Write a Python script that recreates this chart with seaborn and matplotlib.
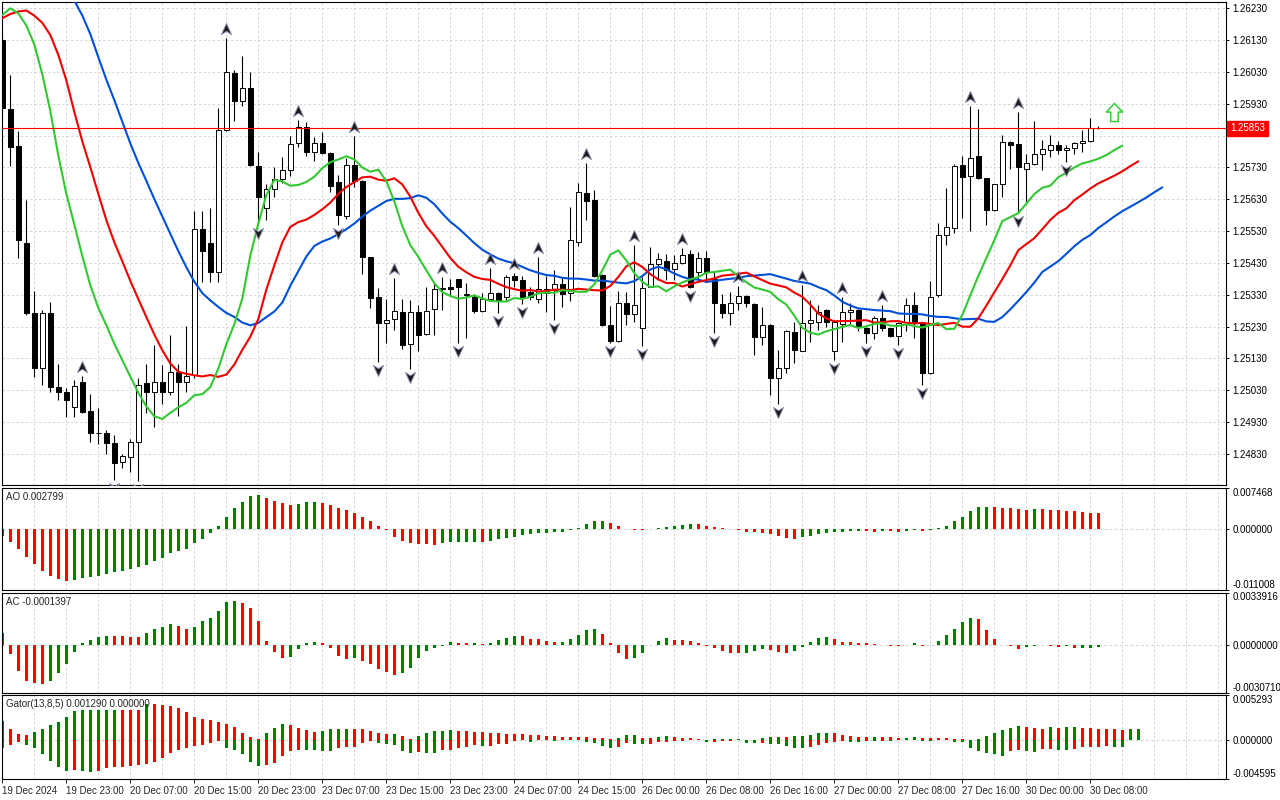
import numpy as np
import matplotlib
matplotlib.use("Agg")
import matplotlib.pyplot as plt
from matplotlib.path import Path
from matplotlib.transforms import offset_copy, blended_transform_factory
import seaborn as sns

# ---- H1 candles, 19 Dec 2024 15:00 ... 30 Dec 2024 ----
bar_open = [
    1.26131, 1.25914, 1.25798, 1.25492, 1.25272, 1.25099, 1.25272, 1.25040, 1.25025, 1.24977,
    1.25055, 1.24965, 1.24895, 1.24895, 1.24864, 1.24804, 1.24820, 1.24867, 1.25052, 1.25026,
    1.25055, 1.25026, 1.25087, 1.25055, 1.25078, 1.25536, 1.25492, 1.25403, 1.25847, 1.26026,
    1.25939, 1.25979, 1.25735, 1.25602, 1.25661, 1.25695, 1.25722, 1.25806, 1.25856, 1.25778,
    1.25806, 1.25775, 1.25684, 1.25579, 1.25737, 1.25688, 1.25448, 1.25322, 1.25242, 1.25253,
    1.25276, 1.25174, 1.25276, 1.25206, 1.25284, 1.25348, 1.25356, 1.25379, 1.25330, 1.25324,
    1.25280, 1.25316, 1.25337, 1.25324, 1.25389, 1.25375, 1.25340, 1.25316, 1.25347, 1.25345,
    1.25364, 1.25337, 1.25497, 1.25651, 1.25628, 1.25392, 1.25235, 1.25186, 1.25303, 1.25269,
    1.25225, 1.25356, 1.25426, 1.25436, 1.25410, 1.25429, 1.25457, 1.25400, 1.25446, 1.25379,
    1.25301, 1.25272, 1.25303, 1.25326, 1.25301, 1.25197, 1.25235, 1.25068, 1.25101, 1.25212,
    1.25154, 1.25240, 1.25246, 1.25282, 1.25152, 1.25238, 1.25275, 1.25282, 1.25227, 1.25209,
    1.25256, 1.25225, 1.25199, 1.25243, 1.25298, 1.25240, 1.25084, 1.25330, 1.25518, 1.25539,
    1.25738, 1.25702, 1.25766, 1.25696, 1.25596, 1.25677, 1.25810, 1.25803, 1.25724, 1.25740,
    1.25772, 1.25785, 1.25799, 1.25785, 1.25790, 1.25806, 1.25813, 1.25853,
]
bar_high = [
    1.26150, 1.26021, 1.25845, 1.25628, 1.25342, 1.25282, 1.25307, 1.25113, 1.25036, 1.25063,
    1.25075, 1.25019, 1.24975, 1.24906, 1.24890, 1.24830, 1.24877, 1.25068, 1.25113, 1.25173,
    1.25108, 1.25204, 1.25113, 1.25233, 1.25593, 1.25593, 1.25602, 1.25916, 1.26136, 1.26036,
    1.26080, 1.26029, 1.25780, 1.25677, 1.25730, 1.25764, 1.25829, 1.25879, 1.25874, 1.25827,
    1.25840, 1.25777, 1.25705, 1.25761, 1.25829, 1.25690, 1.25450, 1.25350, 1.25317, 1.25382,
    1.25316, 1.25314, 1.25298, 1.25353, 1.25366, 1.25387, 1.25380, 1.25381, 1.25368, 1.25332,
    1.25337, 1.25413, 1.25339, 1.25392, 1.25398, 1.25389, 1.25356, 1.25450, 1.25390, 1.25408,
    1.25382, 1.25607, 1.25680, 1.25743, 1.25659, 1.25394, 1.25295, 1.25342, 1.25340, 1.25486,
    1.25387, 1.25481, 1.25460, 1.25457, 1.25455, 1.25478, 1.25470, 1.25465, 1.25468, 1.25402,
    1.25332, 1.25340, 1.25358, 1.25328, 1.25303, 1.25293, 1.25237, 1.25157, 1.25219, 1.25243,
    1.25361, 1.25314, 1.25298, 1.25286, 1.25250, 1.25322, 1.25303, 1.25285, 1.25229, 1.25262,
    1.25298, 1.25227, 1.25243, 1.25319, 1.25340, 1.25242, 1.25374, 1.25557, 1.25665, 1.25741,
    1.25766, 1.25923, 1.25913, 1.25698, 1.25679, 1.25832, 1.25812, 1.25903, 1.25772, 1.25876,
    1.25816, 1.25832, 1.25813, 1.25801, 1.25811, 1.25848, 1.25884, 1.25860,
]
bar_low = [
    1.25900, 1.25736, 1.25447, 1.25268, 1.25073, 1.25045, 1.25026, 1.25000, 1.24947, 1.24947,
    1.24960, 1.24866, 1.24860, 1.24829, 1.24748, 1.24785, 1.24772, 1.24745, 1.24960, 1.24916,
    1.24987, 1.25015, 1.24950, 1.25026, 1.25068, 1.25371, 1.25371, 1.25371, 1.25845, 1.25877,
    1.25923, 1.25735, 1.25550, 1.25565, 1.25638, 1.25680, 1.25704, 1.25795, 1.25767, 1.25751,
    1.25773, 1.25654, 1.25549, 1.25567, 1.25670, 1.25394, 1.25287, 1.25120, 1.25180, 1.25220,
    1.25159, 1.25096, 1.25152, 1.25204, 1.25204, 1.25282, 1.25330, 1.25178, 1.25193, 1.25274,
    1.25276, 1.25314, 1.25272, 1.25314, 1.25356, 1.25301, 1.25314, 1.25303, 1.25275, 1.25250,
    1.25293, 1.25309, 1.25484, 1.25565, 1.25386, 1.25232, 1.25180, 1.25183, 1.25235, 1.25246,
    1.25170, 1.25354, 1.25377, 1.25377, 1.25377, 1.25427, 1.25352, 1.25377, 1.25377, 1.25209,
    1.25256, 1.25235, 1.25282, 1.25293, 1.25141, 1.25173, 1.25015, 1.24988, 1.25084, 1.25117,
    1.25152, 1.25183, 1.25220, 1.25230, 1.25125, 1.25183, 1.25235, 1.25215, 1.25178, 1.25190,
    1.25215, 1.25197, 1.25173, 1.25215, 1.25193, 1.25047, 1.25082, 1.25324, 1.25485, 1.25523,
    1.25570, 1.25530, 1.25693, 1.25550, 1.25594, 1.25638, 1.25724, 1.25588, 1.25623, 1.25738,
    1.25722, 1.25762, 1.25772, 1.25748, 1.25772, 1.25780, 1.25811, 1.25850,
]
bar_close = [
    1.25916, 1.25795, 1.25501, 1.25272, 1.25099, 1.25272, 1.25039, 1.25024, 1.24999, 1.25042,
    1.24963, 1.24895, 1.24897, 1.24864, 1.24801, 1.24824, 1.24867, 1.25045, 1.25025, 1.25055,
    1.25026, 1.25087, 1.25055, 1.25074, 1.25536, 1.25469, 1.25403, 1.25847, 1.26029, 1.25940,
    1.25979, 1.25737, 1.25638, 1.25661, 1.25695, 1.25722, 1.25803, 1.25856, 1.25778, 1.25806,
    1.25775, 1.25672, 1.25581, 1.25737, 1.25686, 1.25448, 1.25321, 1.25241, 1.25250, 1.25279,
    1.25172, 1.25276, 1.25203, 1.25279, 1.25347, 1.25350, 1.25348, 1.25356, 1.25334, 1.25280,
    1.25316, 1.25337, 1.25311, 1.25385, 1.25375, 1.25324, 1.25322, 1.25347, 1.25337, 1.25364,
    1.25333, 1.25502, 1.25653, 1.25626, 1.25389, 1.25235, 1.25185, 1.25303, 1.25269, 1.25298,
    1.25352, 1.25426, 1.25443, 1.25408, 1.25429, 1.25456, 1.25356, 1.25446, 1.25400, 1.25303,
    1.25272, 1.25303, 1.25326, 1.25303, 1.25197, 1.25235, 1.25068, 1.25101, 1.25216, 1.25155,
    1.25240, 1.25250, 1.25277, 1.25243, 1.25245, 1.25275, 1.25282, 1.25228, 1.25209, 1.25256,
    1.25225, 1.25199, 1.25241, 1.25298, 1.25246, 1.25084, 1.25324, 1.25518, 1.25543, 1.25735,
    1.25701, 1.25761, 1.25698, 1.25596, 1.25677, 1.25809, 1.25801, 1.25733, 1.25743, 1.25771,
    1.25787, 1.25799, 1.25785, 1.25791, 1.25806, 1.25812, 1.25853, 1.25853,
]

# alligator values shown before the first candle feeds them
jaw_seed = 1.26307
teeth_lead = [1.26199, 1.26212, 1.26220, 1.26223, 1.26207]
lips_lead = [1.26209, 1.26230, 1.26214]

fractal_up_bars = [10, 28, 37, 44, 49, 55, 61, 64, 67, 73, 79, 85, 92, 100, 105, 110, 121, 127]
fractal_down_bars = [14, 17, 32, 42, 47, 51, 57, 62, 65, 69, 76, 80, 86, 89, 97, 104, 108,
                     112, 115, 127, 133]

bid_price = 1.25853
signal_bar = 139
signal_price = 1.25905

ao_values = [
    -0.00127, -0.00242, -0.00369, -0.00502, -0.00629, -0.00750, -0.00847, -0.00895, -0.00938, -0.00914,
    -0.00877, -0.00865, -0.00853, -0.00811, -0.00780, -0.00756, -0.00714, -0.00690, -0.00647, -0.00575,
    -0.00520, -0.00430, -0.00393, -0.00357, -0.00260, -0.00175, -0.00079, 0.00061, 0.00224, 0.00369,
    0.00484, 0.00587, 0.00605, 0.00551, 0.00496, 0.00460, 0.00424, 0.00454, 0.00478, 0.00481,
    0.00460, 0.00430, 0.00369, 0.00333, 0.00296, 0.00224, 0.00151, 0.00061, -0.00024, -0.00139,
    -0.00212, -0.00260, -0.00263, -0.00266, -0.00284, -0.00260, -0.00242, -0.00239, -0.00236, -0.00233,
    -0.00242, -0.00218, -0.00182, -0.00169, -0.00139, -0.00109, -0.00097, -0.00079, -0.00076, -0.00061,
    -0.00054, -0.00018, 0.00024, 0.00097, 0.00139, 0.00142, 0.00115, 0.00061, 0.00006, -0.00018,
    -0.00021, 0.00000, 0.00024, 0.00042, 0.00045, 0.00067, 0.00085, 0.00082, 0.00054, 0.00042,
    0.00024, 0.00000, -0.00024, -0.00061, -0.00064, -0.00079, -0.00097, -0.00133, -0.00157, -0.00175,
    -0.00151, -0.00127, -0.00097, -0.00079, -0.00061, -0.00057, -0.00042, -0.00036, -0.00042, -0.00048,
    -0.00036, -0.00042, -0.00048, -0.00030, -0.00024, -0.00030, -0.00018, 0.00018, 0.00061, 0.00139,
    0.00224, 0.00315, 0.00387, 0.00390, 0.00387, 0.00384, 0.00381, 0.00351, 0.00348, 0.00363,
    0.00351, 0.00348, 0.00333, 0.00330, 0.00315, 0.00312, 0.00296, 0.002799,
]
ac_values = [
    0.00078, -0.00058, -0.00168, -0.00227, -0.00244, -0.00251, -0.00227, -0.00179, -0.00121, -0.00045,
    0.00013, 0.00032, 0.00050, 0.00060, 0.00059, 0.00058, 0.00052, 0.00051, 0.00078, 0.00104,
    0.00119, 0.00136, 0.00123, 0.00104, 0.00119, 0.00156, 0.00175, 0.00220, 0.00279, 0.00285,
    0.00272, 0.00240, 0.00156, 0.00026, -0.00045, -0.00082, -0.00076, -0.00024, 0.00013, 0.00019,
    0.00013, -0.00017, -0.00067, -0.00089, -0.00082, -0.00102, -0.00123, -0.00153, -0.00173, -0.00192,
    -0.00179, -0.00147, -0.00082, -0.00037, -0.00017, -0.00006, 0.00019, 0.00013, 0.00012, 0.000135,
    0.00006, 0.00013, 0.00032, 0.00045, 0.00060, 0.00059, 0.00039, 0.00038, 0.00026, 0.00019,
    0.00021, 0.00039, 0.00065, 0.00097, 0.00104, 0.00071, 0.00013, -0.00052, -0.00089, -0.00082,
    -0.00052, 0.00000, 0.00026, 0.00045, 0.00032, 0.00031, 0.00026, 0.00013, -0.00002, -0.00019,
    -0.00039, -0.00052, -0.00053, -0.00052, -0.00039, -0.00026, -0.00032, -0.00045, -0.00052, -0.00039,
    -0.00011, 0.00019, 0.00045, 0.00052, 0.00039, 0.00019, 0.00018, 0.00017, 0.00013, 0.00006,
    0.00004, -0.00002, -0.00004, 0.00004, 0.00013, -0.00002, 0.00000, 0.00026, 0.00065, 0.00104,
    0.00149, 0.00175, 0.00168, 0.00097, 0.00039, 0.00004, -0.00002, -0.00024, -0.00013, -0.00002,
    0.00000, -0.00006, -0.00013, -0.00006, -0.00019, -0.00017, -0.000155, -0.0001397,
]
# gator: |jaw - teeth| above zero, |teeth - lips| below zero
gator_upper = [
    0.002234, 0.001294, 0.000706, 0.000549, 0.000941, 0.001294, 0.001725, 0.002117, 0.002705, 0.003410,
    0.003489, 0.003508, 0.003528, 0.003548, 0.003567, 0.003559, 0.003552, 0.003544, 0.004194, 0.004175,
    0.004116, 0.003959, 0.003724, 0.003254, 0.002666, 0.002509, 0.002313, 0.002078, 0.001921, 0.001490,
    0.000784, 0.000353, 0.000118, 0.000784, 0.001372, 0.001842, 0.001803, 0.001450, 0.001137, 0.000941,
    0.001058, 0.001254, 0.001294, 0.001313, 0.001294, 0.001254, 0.001058, 0.000784, 0.000706, 0.000725,
    0.000431, 0.000118, 0.000431, 0.000784, 0.001019, 0.001058, 0.001137, 0.001058, 0.001019, 0.000980,
    0.000941, 0.000784, 0.000764, 0.000745, 0.000706, 0.000666, 0.000588, 0.000549, 0.000431, 0.000412,
    0.000353, 0.000333, 0.000314, 0.000294, 0.000274, 0.000255, 0.000118, 0.000235, 0.000549, 0.000568,
    0.000235, 0.000196, 0.000353, 0.000431, 0.000314, 0.000235, 0.000196, 0.000078, 0.000039, 0.000059,
    0.000118, 0.000137, 0.000157, 0.000039, 0.000020, 0.000235, 0.000353, 0.000372, 0.000353, 0.000431,
    0.000451, 0.000588, 0.000784, 0.000804, 0.000784, 0.000549, 0.000431, 0.000314, 0.000294, 0.000353,
    0.000314, 0.000294, 0.000235, 0.000255, 0.000353, 0.000235, 0.000216, 0.000196, 0.000176, 0.000118,
    0.000098, 0.000039, 0.000078, 0.000431, 0.000784, 0.001137, 0.001372, 0.001607, 0.001490, 0.001372,
    0.001294, 0.001490, 0.001450, 0.001470, 0.001490, 0.001372, 0.001352, 0.001294, 0.001254, 0.001235,
    0.001215, 0.001274, 0.001290,
]
gator_lower = [
    0.000902, 0.000588, 0.000196, 0.000588, 0.000941, 0.001686, 0.002470, 0.003175, 0.003646, 0.003567,
    0.003646, 0.003763, 0.003646, 0.003293, 0.003214, 0.003175, 0.003058, 0.002940, 0.002862, 0.002587,
    0.002078, 0.001490, 0.001215, 0.000902, 0.000706, 0.000588, 0.000353, 0.000157, 0.000902, 0.001215,
    0.001686, 0.002587, 0.003058, 0.002940, 0.002666, 0.001882, 0.001294, 0.001176, 0.001196, 0.001215,
    0.001294, 0.001333, 0.000980, 0.000823, 0.000784, 0.000392, 0.000078, 0.000353, 0.000470, 0.000588,
    0.001294, 0.001568, 0.001450, 0.001490, 0.001568, 0.001215, 0.001176, 0.000980, 0.000823, 0.000588,
    0.000706, 0.000666, 0.000510, 0.000470, 0.000078, 0.000059, 0.000235, 0.000039, 0.000039, 0.000078,
    0.000039, 0.000020, 0.000039, 0.000235, 0.000353, 0.000706, 0.000941, 0.000823, 0.000392, 0.000431,
    0.000510, 0.000470, 0.000274, 0.000235, 0.000157, 0.000078, 0.000059, 0.000039, 0.000235, 0.000196,
    0.000118, 0.000078, 0.000039, 0.000353, 0.000372, 0.000353, 0.000470, 0.000510, 0.000706, 0.000941,
    0.000960, 0.000823, 0.000588, 0.000353, 0.000235, 0.000157, 0.000235, 0.000255, 0.000078, 0.000157,
    0.000078, 0.000118, 0.000039, 0.000039, 0.000020, 0.000157, 0.000176, 0.000039, 0.000020, 0.000235,
    0.000255, 0.000941, 0.001294, 0.001568, 0.001686, 0.001921, 0.001294, 0.001215, 0.001294, 0.001450,
    0.001098, 0.001058, 0.001215, 0.001235, 0.001098, 0.000823, 0.000804, 0.000784, 0.000764, 0.000823,
    0.000843,
]

time_labels = ["19 Dec 2024", "19 Dec 23:00", "20 Dec 07:00", "20 Dec 15:00", "20 Dec 23:00",
               "23 Dec 07:00", "23 Dec 15:00", "23 Dec 23:00", "24 Dec 07:00", "24 Dec 15:00",
               "26 Dec 00:00", "26 Dec 08:00", "26 Dec 16:00", "27 Dec 00:00", "27 Dec 08:00",
               "27 Dec 16:00", "30 Dec 00:00", "30 Dec 08:00"]
price_ticks = [1.24830, 1.24930, 1.25030, 1.25130, 1.25230, 1.25330, 1.25430, 1.25530,
               1.25630, 1.25730, 1.25830, 1.25930, 1.26030, 1.26130, 1.26230]
ao_range = (-0.011008, 0.007468)
ac_range = (-0.0030710, 0.0033916)
gator_range = (-0.004595, 0.005293)
price_range = (1.247324, 1.262498)


def smma(seed, values, period):
    out, prev = [], seed
    for v in values:
        prev = (prev * (period - 1) + v) / period
        out.append(prev)
    return out


def rise_colors(vals):
    cols = [RED]
    for a, b in zip(vals[:-1], vals[1:]):
        cols.append(GREEN if b > a else RED)
    return cols


GREEN = "#008000"
RED = "#ff0000"
GRID = "#d6d6d6"

sns.set_style("white")
plt.rcParams["font.family"] = ["Liberation Sans", "DejaVu Sans"]
plt.rcParams["font.size"] = 7

o = np.array(bar_open)
hi = np.array(bar_high)
lo = np.array(bar_low)
c = np.array(bar_close)
idx = np.arange(len(o))
median = (hi + lo) / 2

jaw = [jaw_seed] + smma(jaw_seed, median, 13)
teeth = teeth_lead + smma(teeth_lead[-1], median, 8)
lips = lips_lead + smma(lips_lead[-1], median, 5)
jaw_x = np.arange(7, 7 + len(jaw))

fig = plt.figure(figsize=(12.8, 8), dpi=100)
W, H = 1280.0, 800.0


def px_axes(top, bottom):
    return fig.add_axes([2 / W, 1 - bottom / H, 1224 / W, (bottom - top) / H])


ax_main = px_axes(2, 485)
ax_ao = px_axes(487.5, 590)
ax_ac = px_axes(592.5, 693)
ax_gt = px_axes(695, 779)
x_lo, x_hi = -0.04, 152.96


def style_panel(ax, ylim, yticks, ylabels):
    ax.set_xlim(x_lo, x_hi)
    ax.set_ylim(*ylim)
    for s in ax.spines.values():
        s.set_color("black")
        s.set_linewidth(0.8)
    for k in range(4, 153, 4):
        ax.axvline(k, color=GRID, lw=0.7, ls=(0, (2.5, 2.2)), zorder=0)
    ax.yaxis.tick_right()
    ax.set_yticks(yticks)
    labs = ax.set_yticklabels(ylabels)
    ax.tick_params(axis="y", direction="out", length=2.5, width=0.7, pad=2.2,
                   labelsize=7, right=True, left=False, colors="black")
    ax.tick_params(axis="x", bottom=False, labelbottom=False)
    return labs


# ---- main price panel ----
# the price label hides the tick label closest to the bid line
price_labels = ["" if abs(p - bid_price) < 0.0003 else f"{p:.5f}" for p in price_ticks]
style_panel(ax_main, price_range, price_ticks, price_labels)
for p in price_ticks:
    ax_main.axhline(p, color=GRID, lw=0.7, ls=(0, (2.5, 2.2)), zorder=0)

ax_main.vlines(idx, lo, hi, color="black", lw=0.8, zorder=2)
up = c >= o
ax_main.bar(idx, np.maximum(np.abs(c - o), 1e-6), bottom=np.minimum(o, c), width=0.58,
            color=np.where(up, "white", "black"), edgecolor="black", linewidth=0.7, zorder=3)

sns.lineplot(x=jaw_x, y=jaw, ax=ax_main, color="#0050d8", linewidth=1.5, zorder=4)
sns.lineplot(x=np.arange(len(teeth)), y=teeth, ax=ax_main, color="#f00000", linewidth=1.5, zorder=4)
sns.lineplot(x=np.arange(len(lips)), y=lips, ax=ax_main, color="#32c832", linewidth=1.5, zorder=4)

ax_main.axhline(bid_price, color="#ff0000", lw=0.8, zorder=5)

arrow_up = Path([(0, 1), (0.85, -0.85), (0, -0.3), (-0.85, -0.85), (0, 1)],
                [Path.MOVETO, Path.LINETO, Path.LINETO, Path.LINETO, Path.CLOSEPOLY])
arrow_dn = Path([(0, -1), (0.85, 0.85), (0, 0.3), (-0.85, 0.85), (0, -1)],
                [Path.MOVETO, Path.LINETO, Path.LINETO, Path.LINETO, Path.CLOSEPOLY])
tr_up = offset_copy(ax_main.transData, fig=fig, y=9, units="dots")
tr_dn = offset_copy(ax_main.transData, fig=fig, y=-8, units="dots")
ax_main.plot(fractal_up_bars, hi[fractal_up_bars], ls="none", marker=arrow_up, ms=8.5,
             mfc="#1a1a1a", mec="#8a8aa8", mew=0.7, transform=tr_up, zorder=6)
ax_main.plot(fractal_down_bars, lo[fractal_down_bars], ls="none", marker=arrow_dn, ms=8.5,
             mfc="#1a1a1a", mec="#8a8aa8", mew=0.7, transform=tr_dn, zorder=6)

big_arrow = Path([(0, 1), (0.9, 0.05), (0.42, 0.05), (0.42, -1), (-0.42, -1), (-0.42, 0.05),
                  (-0.9, 0.05), (0, 1)],
                 [Path.MOVETO] + [Path.LINETO] * 6 + [Path.CLOSEPOLY])
ax_main.plot([signal_bar], [signal_price], ls="none", marker=big_arrow, ms=13,
             mfc="white", mec="#32cd32", mew=1.1, zorder=6, clip_on=False)

bt = blended_transform_factory(ax_main.transAxes, ax_main.transData)
ax_main.text(1.0 + 4 / 1224, bid_price, f"{bid_price:.5f}", transform=bt, ha="left", va="center",
             color="white", fontsize=7, zorder=10, clip_on=False,
             bbox=dict(boxstyle="square,pad=0.28", fc="#ff0000", ec="#ff0000"))


# ---- oscillators ----
def osc_panel(ax, vals, rng, fmt, title):
    labs = style_panel(ax, rng, [rng[0], 0.0, rng[1]],
                       [fmt.format(rng[0]), fmt.format(0.0), fmt.format(rng[1])])
    labs[0].set_va("bottom")
    labs[2].set_va("top")
    ax.axhline(0, color=GRID, lw=0.8, ls=(0, (2.5, 2.2)), zorder=0)
    ax.bar(np.arange(len(vals)), vals, width=0.42, color=rise_colors(vals), linewidth=0, zorder=2)
    ax.annotate(title, xy=(0, 1), xycoords="axes fraction", xytext=(3, -3),
                textcoords="offset points", ha="left", va="top", fontsize=7)


osc_panel(ax_ao, ao_values, ao_range, "{:.6f}", f"AO {ao_values[-1]:.6f}")
osc_panel(ax_ac, ac_values, ac_range, "{:.7f}", f"AC {ac_values[-1]:.7f}")

labs = style_panel(ax_gt, gator_range, [gator_range[0], 0.0, gator_range[1]],
                   [f"{gator_range[0]:.6f}", "0.000000", f"{gator_range[1]:.6f}"])
labs[0].set_va("bottom")
labs[2].set_va("top")
ax_gt.axhline(0, color=GRID, lw=0.8, ls=(0, (2.5, 2.2)), zorder=0)
ax_gt.bar(np.arange(len(gator_upper)), gator_upper, width=0.42,
          color=rise_colors(gator_upper), linewidth=0, zorder=2)
ax_gt.bar(np.arange(len(gator_lower)), -np.array(gator_lower), width=0.42,
          color=rise_colors(gator_lower), linewidth=0, zorder=2)
ax_gt.annotate(f"Gator(13,8,5) {gator_upper[-1]:.6f} {0:.6f}", xy=(0, 1), xycoords="axes fraction",
               xytext=(3, -3), textcoords="offset points", ha="left", va="top", fontsize=7)

ax_gt.set_xticks(np.arange(0, 8 * len(time_labels), 8))
ax_gt.set_xticklabels(time_labels, ha="left")
ax_gt.tick_params(axis="x", bottom=True, labelbottom=True, direction="out", length=3,
                  width=0.7, pad=2, labelsize=7)

fig.savefig("out.png", dpi=100)
